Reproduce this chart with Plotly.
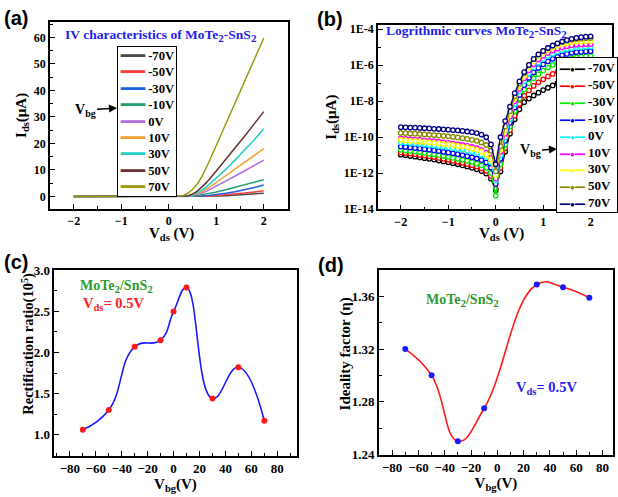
import plotly.graph_objects as go

W, H = 618, 497

# ---------------- data ----------------
gate_labels = ["-70V", "-50V", "-30V", "-10V", "0V", "10V", "30V", "50V", "70V"]
colors_a = ["#4a4a4a", "#ff3b3b", "#1f5fe0", "#22a070", "#b070e0", "#f0a030", "#22d0c8", "#6a3232", "#9a9a10"]
colors_b = ["#000000", "#ff0000", "#00ee00", "#0000ff", "#00ffff", "#ff00ff", "#ffff00", "#8a8a00", "#000080"]

# (a) linear I-V
V_a = [-2.0, -1.5, -1.0, -0.5, 0.0, 0.2, 0.3, 0.4, 0.5, 0.6, 0.7, 0.8, 1.0, 1.2, 1.4, 1.6, 1.8, 2.0]
I_a_m70 = [0, 0, 0, 0, 0, 0, 0, 0, 0, 0, 0, 0.05, 0.15, 0.3, 0.5, 0.7, 0.95, 1.2]
I_a_m50 = [0, 0, 0, 0, 0, 0, 0, 0, 0, 0, 0.05, 0.15, 0.35, 0.6, 0.9, 1.25, 1.65, 2.1]
I_a_m30 = [0, 0, 0, 0, 0, 0, 0, 0, 0, 0.05, 0.15, 0.3, 0.7, 1.2, 1.8, 2.5, 3.4, 4.3]
I_a_m10 = [0, 0, 0, 0, 0, 0, 0, 0, 0.1, 0.3, 0.6, 0.9, 1.7, 2.5, 3.4, 4.3, 5.3, 6.3]
I_a_0 = [0, 0, 0, 0, 0, 0, 0, 0, 0.3, 0.7, 1.3, 2.0, 3.8, 5.7, 7.7, 9.7, 11.7, 13.7]
I_a_10 = [0, 0, 0, 0, 0, 0, 0, 0.1, 0.4, 1.0, 1.8, 2.8, 5.2, 7.8, 10.4, 12.9, 15.4, 18.0]
I_a_30 = [0, 0, 0, 0, 0, 0, 0, 0.1, 0.5, 1.3, 2.4, 3.7, 6.8, 10.2, 13.8, 17.5, 21.4, 25.5]
I_a_50 = [0, 0, 0, 0, 0, 0, 0.05, 0.2, 0.9, 2.0, 3.6, 5.4, 9.6, 13.9, 18.3, 22.8, 27.4, 32.0]
I_a_70 = [0, 0, 0, 0, 0, 0.05, 0.3, 1.2, 2.6, 4.6, 7.6, 11.2, 19.2, 27.3, 35.4, 43.5, 51.6, 59.8]

# (b) log10 of current
V_b = [-2.0, -1.9, -1.8, -1.7, -1.6, -1.5, -1.4, -1.3, -1.2, -1.1, -1.0, -0.9, -0.8, -0.7,
       -0.6, -0.5, -0.4, -0.3, -0.2, -0.1, 0.0, 0.1, 0.2, 0.3, 0.4, 0.5, 0.6, 0.7, 0.8, 0.9,
       1.0, 1.1, 1.2, 1.3, 1.4, 1.5, 1.6, 1.7, 1.8, 1.9, 2.0]
logI_b_m70 = [-10.97, -11.00, -11.04, -11.08, -11.12, -11.16, -11.20, -11.24, -11.29, -11.34, -11.39,
              -11.44, -11.50, -11.56, -11.62, -11.70, -11.78, -11.88, -12.02, -12.30, -12.95,
              -11.90, -10.80, -9.80, -9.00, -8.45, -8.05, -7.85, -7.68, -7.52, -7.38,
              -7.25, -7.12, -7.00, -6.90, -6.80, -6.70, -6.60, -6.50, -6.42, -6.35]
logI_b_m50 = [-10.84, -10.87, -10.90, -10.94, -10.98, -11.02, -11.06, -11.10, -11.15, -11.20, -11.25,
              -11.30, -11.36, -11.42, -11.48, -11.55, -11.63, -11.73, -11.87, -12.15, -12.85,
              -11.70, -10.60, -9.60, -8.80, -8.15, -7.70, -7.40, -7.15, -6.95, -6.78,
              -6.62, -6.48, -6.35, -6.23, -6.12, -6.02, -5.93, -5.85, -5.78, -5.72]
logI_b_m30 = [-10.70, -10.73, -10.76, -10.79, -10.83, -10.87, -10.91, -10.95, -10.99, -11.04, -11.09,
              -11.14, -11.19, -11.25, -11.31, -11.38, -11.46, -11.56, -11.70, -11.98, -13.25,
              -11.50, -10.40, -9.40, -8.55, -7.85, -7.35, -7.00, -6.72, -6.50, -6.30,
              -6.13, -5.98, -5.86, -5.76, -5.68, -5.61, -5.56, -5.52, -5.49, -5.47]
logI_b_m10 = [-10.52, -10.54, -10.57, -10.60, -10.63, -10.66, -10.69, -10.73, -10.77, -10.81, -10.85,
              -10.89, -10.94, -10.99, -11.05, -11.11, -11.18, -11.27, -11.40, -11.68, -12.60,
              -11.20, -10.20, -9.20, -8.35, -7.65, -7.10, -6.70, -6.40, -6.15, -5.95,
              -5.78, -5.64, -5.53, -5.44, -5.37, -5.31, -5.27, -5.25, -5.23, -5.22]
logI_b_0 = [-10.28, -10.30, -10.32, -10.35, -10.37, -10.40, -10.43, -10.46, -10.49, -10.52, -10.56,
            -10.60, -10.64, -10.69, -10.74, -10.80, -10.87, -10.96, -11.10, -11.40, -12.40,
            -11.00, -10.00, -9.00, -8.15, -7.45, -6.88, -6.45, -6.12, -5.86, -5.65,
            -5.48, -5.35, -5.24, -5.16, -5.09, -5.04, -5.00, -4.98, -4.97, -4.96]
logI_b_10 = [-10.07, -10.09, -10.11, -10.13, -10.15, -10.17, -10.20, -10.22, -10.25, -10.28, -10.31,
             -10.35, -10.39, -10.43, -10.48, -10.54, -10.61, -10.71, -10.86, -11.15, -12.30,
             -10.80, -9.80, -8.85, -8.00, -7.30, -6.72, -6.28, -5.95, -5.68, -5.48,
             -5.32, -5.18, -5.08, -5.00, -4.94, -4.89, -4.86, -4.84, -4.83, -4.82]
logI_b_30 = [-10.15, -10.17, -10.19, -10.21, -10.23, -10.26, -10.28, -10.31, -10.34, -10.37, -10.40,
             -10.44, -10.48, -10.52, -10.57, -10.63, -10.70, -10.80, -10.95, -11.25, -12.10,
             -10.70, -9.60, -8.70, -7.85, -7.15, -6.58, -6.12, -5.78, -5.50, -5.30,
             -5.14, -5.01, -4.91, -4.83, -4.77, -4.72, -4.69, -4.67, -4.66, -4.65]
logI_b_50 = [-9.76, -9.77, -9.79, -9.80, -9.82, -9.84, -9.86, -9.88, -9.90, -9.92, -9.95,
             -9.98, -10.01, -10.05, -10.09, -10.14, -10.20, -10.29, -10.43, -10.75, -11.90,
             -10.50, -9.40, -8.55, -7.72, -7.02, -6.45, -6.00, -5.66, -5.40, -5.20,
             -5.04, -4.91, -4.80, -4.71, -4.64, -4.58, -4.54, -4.52, -4.50, -4.49]
logI_b_70 = [-9.44, -9.45, -9.46, -9.47, -9.48, -9.50, -9.51, -9.53, -9.54, -9.56, -9.58,
             -9.60, -9.62, -9.65, -9.68, -9.72, -9.77, -9.85, -10.00, -10.40, -11.50,
             -10.00, -9.10, -8.30, -7.55, -6.90, -6.38, -5.98, -5.65, -5.40, -5.20,
             -5.04, -4.90, -4.78, -4.68, -4.60, -4.53, -4.48, -4.44, -4.41, -4.39]

# (c) rectification ratio
Vbg_c = [-70, -50, -30, -10, 0, 10, 30, 50, 70]
rect_ratio = [1.06, 1.30, 2.07, 2.15, 2.50, 2.79, 1.44, 1.82, 1.17]

# (d) ideality factor
Vbg_d = [-70, -50, -30, -10, 30, 50, 70]
ideality = [1.320, 1.300, 1.250, 1.275, 1.369, 1.367, 1.359]

log_ticks_b = [1e-14, 1e-12, 1e-10, 1e-8, 1e-6, 1e-4]
log_ticktext_b = ["1E-14", "1E-12", "1E-10", "1E-8", "1E-6", "1E-4"]

# ---------------- helpers ----------------
SERIF = "Liberation Serif"
SANS = "Liberation Sans"


def px(x):
    return x / W


def py(y):
    return 1 - y / H


def sub(t, size, shift):
    return f"<span style='font-size:{size}px;baseline-shift:-{shift}px'>{t}</span>"


def sup(t, size, shift):
    return f"<span style='font-size:{size}px;baseline-shift:{shift}px'>{t}</span>"


def axis_style(size=12):
    return dict(showline=True, linecolor="black", linewidth=1.6, mirror=True,
                ticks="inside", ticklen=5, tickwidth=1.4, tickcolor="black",
                showgrid=False, zeroline=False,
                tickfont=dict(family=SERIF, size=size, color="black", weight="bold"))


def title_font(size=15):
    return dict(family=SERIF, size=size, color="black", weight="bold")


MINOR = dict(ticks="inside", ticklen=3, tickwidth=1, tickcolor="black")

fig = go.Figure()

I_a_all = [I_a_m70, I_a_m50, I_a_m30, I_a_m10, I_a_0, I_a_10, I_a_30, I_a_50, I_a_70]
for lab, col, ys in zip(gate_labels, colors_a, I_a_all):
    fig.add_trace(go.Scatter(x=V_a, y=ys, mode="lines", name=lab,
                             line=dict(color=col, width=1.5),
                             xaxis="x", yaxis="y", showlegend=False))

logI_b_all = [logI_b_m70, logI_b_m50, logI_b_m30, logI_b_m10, logI_b_0,
              logI_b_10, logI_b_30, logI_b_50, logI_b_70]
for lab, col, ls in zip(gate_labels, colors_b, logI_b_all):
    fig.add_trace(go.Scatter(x=V_b, y=[10 ** v for v in ls], mode="lines+markers", name=lab,
                             line=dict(color=col, width=1.3),
                             marker=dict(symbol="circle", size=4.5, color="white",
                                         line=dict(color=col, width=1.3)),
                             xaxis="x2", yaxis="y2", showlegend=False))

fig.add_trace(go.Scatter(x=Vbg_c, y=rect_ratio, mode="lines+markers",
                         line=dict(color="#1a1aff", width=1.6, shape="spline", smoothing=1.3),
                         marker=dict(color="#ff1a1a", size=6),
                         xaxis="x3", yaxis="y3", showlegend=False))

fig.add_trace(go.Scatter(x=Vbg_d, y=ideality, mode="lines+markers",
                         line=dict(color="#ff1a1a", width=1.6, shape="spline", smoothing=1.3),
                         marker=dict(color="#1a1aff", size=6),
                         xaxis="x4", yaxis="y4", showlegend=False))

# ---------------- axes ----------------
layout = dict(
    width=W, height=H, margin=dict(l=0, r=0, t=0, b=0),
    paper_bgcolor="white", plot_bgcolor="white", showlegend=False,
)

VDS_TITLE = "V" + sub("ds", 10.5, 3) + " (V)"
VBG_TITLE = "V" + sub("bg", 10.5, 3) + "(V)"
IDS_TITLE = "I" + sub("ds", 10.5, 3) + "(μA)"

xa = axis_style(12)
xa.update(domain=[px(50), px(287.5)], anchor="y", range=[-2.5, 2.5], dtick=1, tick0=0,
          minor=dict(MINOR, dtick=0.5))
ya = axis_style(12)
ya.update(domain=[py(208), py(15)], anchor="x", range=[-4.8, 66], dtick=10, tick0=0,
          minor=dict(MINOR, dtick=5),
          title=dict(text=IDS_TITLE, font=title_font(15), standoff=4))

xb = axis_style(12)
xb.update(domain=[px(378), px(612)], anchor="y2", range=[-2.48, 2.45], dtick=1, tick0=0,
          minor=dict(MINOR, dtick=0.5))
yb = axis_style(12)
yb.update(domain=[py(208.3), py(18.3)], anchor="x2", type="log", range=[-14.01, -3.75],
          tickmode="array", tickvals=log_ticks_b, ticktext=log_ticktext_b,
          minor=dict(MINOR, tickmode="array", tickvals=[1e-13, 1e-11, 1e-9, 1e-7, 1e-5]),
          title=dict(text=IDS_TITLE, font=title_font(15), standoff=4))

xc = axis_style(13)
xc.update(domain=[px(54.3), px(296.7)], anchor="y3", range=[-92, 95], dtick=20, tick0=0,
          minor=dict(MINOR, dtick=10),
          title=dict(text=VBG_TITLE, font=title_font(15), standoff=0))
yc = axis_style(13)
yc.update(domain=[py(461.7), py(270.7)], anchor="x3", range=[0.745, 3.003], dtick=0.5, tick0=0,
          tickformat=".1f", minor=dict(MINOR, dtick=0.25))

xd = axis_style(13)
xd.update(domain=[px(379), px(613)], anchor="y4", range=[-90, 88], dtick=20, tick0=0,
          minor=dict(MINOR, dtick=10),
          title=dict(text=VBG_TITLE, font=title_font(15), standoff=0))
yd = axis_style(13)
yd.update(domain=[py(461), py(270.7)], anchor="x4", range=[1.2395, 1.38], dtick=0.04, tick0=1.24,
          tickformat=".2f", minor=dict(MINOR, dtick=0.02))

layout.update(xaxis=xa, yaxis=ya, xaxis2=xb, yaxis2=yb, xaxis3=xc, yaxis3=yc,
              xaxis4=xd, yaxis4=yd)
fig.update_layout(**layout)

# ---------------- annotations ----------------
ann = []


def text_ann(txt, x, y, size, color="black", family=SERIF, angle=0):
    ann.append(dict(text=txt, x=px(x), y=py(y), xref="paper", yref="paper",
                    xanchor="center", yanchor="middle", showarrow=False, textangle=angle,
                    font=dict(family=family, size=size, color=color, weight="bold")))


two = sub("2", 11, 3)

# panel labels
text_ann("(a)", 16, 11, 20, family=SANS)
text_ann("(b)", 330, 12, 20, family=SANS)
text_ann("(c)", 16, 262, 20, family=SANS)
text_ann("(d)", 331, 265, 20, family=SANS)

# axis titles placed as in the reference
text_ann(VDS_TITLE, 171, 234, 15)
text_ann(VDS_TITLE, 501, 234, 15)
text_ann("Rectification ratio(10" + sup("5", 10, 5) + ")", 28.5, 347, 14.5, angle=-90)
text_ann("Ideality factor (η)", 345.5, 357, 15, angle=-90)

# in-plot titles
text_ann(f"IV characteristics of MoTe{two}-SnS{two}", 161.5, 29, 13.5, color="#2222ee")
text_ann(f"Logrithmic curves MoTe{two}-SnS{two}", 476, 25, 13.5, color="#2222ee")
text_ann(f"MoTe{two}/SnS{two}", 116.5, 288, 14, color="#2e9a2e")
text_ann("V" + sub("ds", 10.5, 3) + "= 0.5V", 113.5, 306, 14.5, color="#ff2020")
text_ann(f"MoTe{two}/SnS{two}", 462, 302, 14, color="#2e9a2e")
text_ann("V" + sub("ds", 10.5, 3) + "= 0.5V", 546.5, 392, 14.5, color="#2222ee")

# V_bg labels with arrows pointing at the legends
for tx, ty, hx, hy in [(85, 106, 117, 104), (530, 148, 557, 146)]:
    ann.append(dict(text="V" + sub("bg", 10, 3), x=px(hx), y=py(hy), xref="paper", yref="paper",
                    ax=tx - hx, ay=ty - hy, showarrow=True, arrowhead=2, arrowsize=1,
                    arrowwidth=1.6, arrowcolor="black",
                    font=dict(family=SERIF, size=14, color="black", weight="bold")))

# legend boxes (keys coloured as the traces, labels from gate_labels)
leg_a = "<br>".join(f"<span style='color:{c}'>━━━</span> {lab}"
                    for c, lab in zip(colors_a, gate_labels))
ann.append(dict(text=leg_a, x=px(117), y=py(40), xref="paper", yref="paper",
                xanchor="left", yanchor="top", align="left", showarrow=False,
                bgcolor="white", bordercolor="black", borderwidth=1, borderpad=2,
                font=dict(family=SERIF, size=12.6, color="black", weight="bold")))
leg_b = "<br>".join(
    f"<span style='color:{c};font-size:8px'>━━</span>"
    f"<span style='color:{c};font-size:8px'>●</span>"
    f"<span style='color:{c};font-size:8px'>━━</span> {lab}"
    for c, lab in zip(colors_b, gate_labels))
ann.append(dict(text=leg_b, x=px(556), y=py(51), xref="paper", yref="paper",
                xanchor="left", yanchor="top", align="left", showarrow=False,
                bgcolor="white", bordercolor="black", borderwidth=1, borderpad=2,
                font=dict(family=SERIF, size=13, color="black", weight="bold")))

fig.update_layout(annotations=ann)

fig.write_html("out.html", config={"displayModeBar": False},
               post_script="document.body.style.margin='0';")
